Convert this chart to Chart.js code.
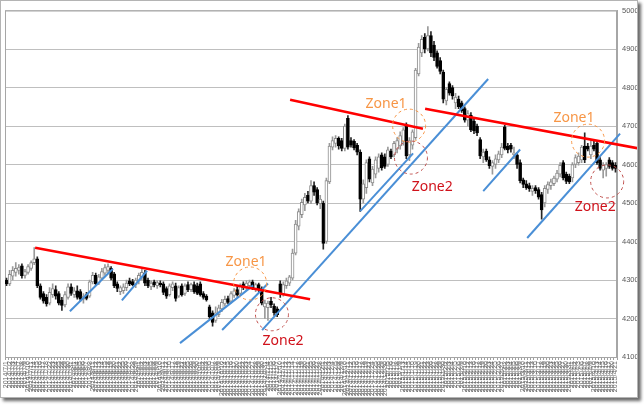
<!DOCTYPE html>
<html>
<head>
<meta charset="utf-8">
<script src="https://cdn.jsdelivr.net/npm/chart.js@4/dist/chart.umd.min.js"></script>
<style>
  html, body { margin: 0; padding: 0; background: #fff; }
  #frame {
    position: absolute; left: 0; top: 0;
    width: 636px; height: 396px;
    border: 1px solid #b4b4b4;
    box-shadow: 3px 3px 3px #6a6a6a;
    background: #fff;
  }
  canvas { display: block; }
</style>
</head>
<body>
<div id="frame"><canvas id="c" width="636" height="396"></canvas></div>
<script>
// trading days, 2014/7/1 - 2015/4/21
const dates = [
  '2014/7/1','2014/7/2','2014/7/3','2014/7/4','2014/7/7','2014/7/8','2014/7/9','2014/7/10','2014/7/11','2014/7/14','2014/7/15','2014/7/16','2014/7/17','2014/7/18','2014/7/22','2014/7/23','2014/7/24','2014/7/25','2014/7/28','2014/7/29','2014/7/30','2014/7/31',
  '2014/8/1','2014/8/4','2014/8/5','2014/8/6','2014/8/7','2014/8/8','2014/8/11','2014/8/12','2014/8/13','2014/8/14','2014/8/15','2014/8/18','2014/8/19','2014/8/20','2014/8/21','2014/8/22','2014/8/25','2014/8/26','2014/8/27','2014/8/28','2014/8/29',
  '2014/9/1','2014/9/2','2014/9/3','2014/9/4','2014/9/5','2014/9/8','2014/9/9','2014/9/10','2014/9/11','2014/9/12','2014/9/16','2014/9/17','2014/9/18','2014/9/19','2014/9/22','2014/9/24','2014/9/25','2014/9/26','2014/9/29','2014/9/30',
  '2014/10/1','2014/10/2','2014/10/3','2014/10/6','2014/10/7','2014/10/8','2014/10/9','2014/10/10','2014/10/14','2014/10/15','2014/10/16','2014/10/17','2014/10/20','2014/10/21','2014/10/22','2014/10/23','2014/10/24','2014/10/27','2014/10/28','2014/10/29','2014/10/30','2014/10/31',
  '2014/11/4','2014/11/5','2014/11/6','2014/11/7','2014/11/10','2014/11/11','2014/11/12','2014/11/13','2014/11/14','2014/11/17','2014/11/18','2014/11/19','2014/11/20','2014/11/21','2014/11/25','2014/11/26','2014/11/27','2014/11/28',
  '2014/12/1','2014/12/2','2014/12/3','2014/12/4','2014/12/5','2014/12/8','2014/12/9','2014/12/10','2014/12/11','2014/12/12','2014/12/15','2014/12/16','2014/12/17','2014/12/18','2014/12/19','2014/12/22','2014/12/24','2014/12/25','2014/12/26','2014/12/29','2014/12/30',
  '2015/1/5','2015/1/6','2015/1/7','2015/1/8','2015/1/9','2015/1/13','2015/1/14','2015/1/15','2015/1/16','2015/1/19','2015/1/20','2015/1/21','2015/1/22','2015/1/23','2015/1/26','2015/1/27','2015/1/28','2015/1/29','2015/1/30',
  '2015/2/2','2015/2/3','2015/2/4','2015/2/5','2015/2/6','2015/2/9','2015/2/10','2015/2/12','2015/2/13','2015/2/16','2015/2/17','2015/2/18','2015/2/19','2015/2/20','2015/2/23','2015/2/24','2015/2/25','2015/2/26','2015/2/27',
  '2015/3/2','2015/3/3','2015/3/4','2015/3/5','2015/3/6','2015/3/9','2015/3/10','2015/3/11','2015/3/12','2015/3/13','2015/3/16','2015/3/17','2015/3/18','2015/3/19','2015/3/20','2015/3/23','2015/3/24','2015/3/25','2015/3/26','2015/3/27','2015/3/30','2015/3/31',
  '2015/4/1','2015/4/2','2015/4/3','2015/4/6','2015/4/7','2015/4/8','2015/4/9','2015/4/10','2015/4/13','2015/4/14','2015/4/15','2015/4/16','2015/4/17','2015/4/20','2015/4/21'
];

const opens = [
  4300,4290,4310,4320,4325,4337,4312,4320,4330,4345,4355,4285,4265,4255,4240,4262,4275,4265,4248,4235,4255,4282,
  4262,4272,4270,4250,4262,4258,4295,4312,4292,4305,4318,4325,4330,4316,4290,4270,4272,4280,4298,4296,4288,
  4298,4308,4318,4300,4282,4295,4285,4292,4290,4278,4262,4280,4285,4258,4285,4265,4288,4275,4288,4285,
  4290,4265,4258,4230,4215,4195,4210,4225,4238,4252,4245,4260,4275,4265,4290,4280,4285,4295,4278,4288,4278,
  4230,4228,4245,4232,4225,4290,4262,4285,4292,4305,4370,4440,4470,4495,4520,4505,4545,4535,4498,
  4500,4400,4555,4645,4655,4668,4662,4642,4720,4662,4660,4650,4632,4510,4540,4615,4552,4575,4590,4625,4620,
  4600,4635,4625,4640,4648,4660,4702,4625,4650,4670,4835,4890,4930,4900,4935,4910,4890,4870,4840,
  4765,4810,4800,4760,4770,4760,4745,4715,4728,4712,4700,4665,4620,4635,4612,4595,4600,4612,4625,
  4698,4648,4650,4625,4625,4605,4560,4550,4545,4530,4540,4535,4522,4500,4535,4545,4550,4562,4575,4605,4575,4570,
  4565,4600,4605,4612,4648,4648,4625,4650,4655,4612,4585,4590,4612,4605,4598
];
const highs = [
  4305,4325,4335,4345,4340,4342,4328,4340,4350,4384,4360,4290,4270,4262,4280,4290,4285,4270,4255,4270,4290,4290,
  4280,4285,4275,4265,4268,4300,4320,4318,4315,4330,4340,4342,4335,4320,4295,4285,4290,4300,4305,4302,4305,
  4318,4328,4325,4305,4298,4300,4298,4298,4295,4282,4290,4295,4292,4285,4290,4290,4295,4292,4295,4292,
  4295,4270,4262,4235,4220,4230,4235,4250,4258,4258,4270,4278,4282,4290,4295,4298,4300,4300,4292,4292,4282,
  4248,4245,4255,4238,4230,4298,4295,4305,4312,4380,4455,4485,4510,4525,4530,4558,4555,4540,4520,
  4505,4565,4655,4672,4675,4672,4668,4705,4727,4670,4665,4655,4638,4560,4612,4620,4595,4620,4628,4630,4628,
  4645,4640,4660,4670,4685,4696,4708,4670,4690,4850,4915,4935,4940,4958,4945,4920,4895,4878,4845,
  4800,4815,4805,4785,4778,4765,4750,4740,4735,4718,4705,4670,4640,4640,4620,4610,4625,4635,4655,
  4702,4655,4655,4645,4630,4612,4565,4558,4552,4545,4545,4540,4528,4545,4555,4562,4570,4585,4605,4610,4580,4575,
  4605,4625,4630,4650,4682,4655,4662,4660,4662,4618,4605,4605,4618,4610,4605
];
const lows = [
  4285,4285,4300,4310,4315,4305,4305,4315,4325,4340,4280,4250,4240,4232,4235,4255,4250,4235,4221,4230,4250,4260,
  4255,4250,4245,4240,4248,4255,4290,4285,4288,4300,4312,4318,4300,4280,4270,4262,4265,4272,4285,4285,4280,
  4290,4300,4285,4280,4275,4282,4278,4282,4262,4252,4258,4272,4245,4255,4258,4260,4270,4270,4265,4262,
  4258,4250,4245,4200,4180,4190,4205,4218,4232,4238,4240,4255,4258,4260,4275,4272,4280,4275,4270,4270,4235,
  4200,4195,4228,4208,4205,4255,4258,4278,4285,4300,4365,4430,4462,4480,4500,4498,4520,4495,4485,
  4380,4395,4550,4638,4645,4640,4635,4635,4640,4645,4638,4625,4478,4500,4525,4555,4545,4565,4580,4585,4590,
  4595,4615,4620,4630,4640,4650,4615,4610,4640,4665,4830,4880,4890,4895,4880,4870,4850,4835,4760,
  4755,4780,4770,4745,4745,4735,4710,4700,4685,4680,4675,4615,4605,4608,4590,4575,4590,4605,4618,
  4638,4630,4632,4615,4590,4552,4540,4535,4530,4520,4525,4510,4458,4490,4525,4535,4545,4555,4568,4560,4550,4550,
  4555,4592,4598,4605,4605,4635,4615,4635,4600,4585,4565,4570,4590,4585,4580
];
const closes = [
  4290,4315,4325,4330,4332,4311,4322,4335,4345,4355,4285,4255,4245,4238,4268,4278,4258,4240,4234,4262,4282,4265,
  4272,4255,4250,4258,4252,4295,4312,4290,4308,4322,4332,4335,4305,4285,4278,4280,4282,4292,4290,4288,4300,
  4312,4320,4292,4285,4292,4288,4293,4288,4268,4258,4285,4290,4252,4280,4262,4285,4275,4288,4270,4265,
  4262,4255,4248,4205,4190,4215,4228,4242,4250,4242,4265,4272,4262,4285,4280,4292,4295,4280,4288,4275,4240,
  4240,4240,4235,4215,4210,4265,4288,4298,4308,4370,4445,4478,4502,4515,4505,4545,4528,4500,4510,
  4395,4558,4648,4662,4668,4648,4642,4700,4645,4650,4643,4632,4510,4550,4605,4562,4588,4612,4620,4592,4595,
  4638,4620,4655,4662,4675,4690,4622,4662,4685,4845,4905,4925,4900,4935,4890,4878,4855,4842,4770,
  4795,4785,4778,4775,4750,4740,4715,4732,4690,4688,4682,4622,4632,4612,4597,4605,4615,4628,4645,
  4642,4638,4640,4630,4600,4558,4548,4540,4537,4538,4532,4515,4482,4538,4548,4555,4565,4578,4598,4565,4556,4555,
  4600,4618,4622,4645,4612,4640,4648,4640,4605,4590,4598,4600,4595,4590,4590
];

const yTicks = [4100, 4200, 4300, 4400, 4500, 4600, 4700, 4800, 4900, 5000];

// trend lines: [x0 (day index), y0, x1, y1]
const redLines = [
  [9.3, 4384, 98.7, 4250],
  [92.2, 4768, 135.4, 4693],
  [136.1, 4745, 206, 4641]
];
const blueLines = [
  [20.6, 4219, 34.6, 4329],
  [37.5, 4247, 45.7, 4324],
  [56.4, 4136, 80.2, 4286],
  [70.1, 4170, 85.0, 4291],
  [83.1, 4170, 156.6, 4822],
  [115.0, 4479, 132.2, 4629],
  [155.0, 4531, 167.0, 4639],
  [169.3, 4409, 199.5, 4680]
];
// dashed circles and labels: [day index, value]
const zone1Circles = [[79.2, 4291], [130.9, 4701], [189.1, 4662]];
const zone2Circles = [[86.3, 4211], [131.5, 4618], [195.3, 4556]];
const zone1Labels = [[77.9, 4348], [123.4, 4758], [184.5, 4721]];
const zone2Labels = [[89.9, 4141], [138.4, 4541], [191.4, 4489]];

const up = closes.map((c, i) => c >= opens[i]);

const lineSet = (l, color) => ({
  type: 'line',
  xAxisID: 'xl',
  data: [{ x: l[0], y: l[1] }, { x: l[2], y: l[3] }],
  borderColor: color,
  borderWidth: color === '#ff0000' ? 2.5 : 2,
  pointRadius: 0,
  clip: false,
  order: 0
});

const zones = {
  id: 'zones',
  beforeDatasetsDraw(chart) {
    const { ctx, chartArea: a } = chart;
    ctx.save();
    ctx.strokeStyle = '#a6a6a6';
    ctx.lineWidth = 1;
    ctx.strokeRect(a.left + 0.5, a.top + 0.5, a.right - a.left - 1, a.bottom - a.top);
    ctx.restore();
  },
  afterDatasetsDraw(chart) {
    const { ctx } = chart;
    const xs = chart.scales.xl, ys = chart.scales.y;
    ctx.save();
    ctx.lineWidth = 1;
    ctx.setLineDash([3, 3]);
    const ring = (p, color) => {
      ctx.strokeStyle = color;
      ctx.beginPath();
      ctx.arc(xs.getPixelForValue(p[0]), ys.getPixelForValue(p[1]), 16.5, 0, Math.PI * 2);
      ctx.stroke();
    };
    zone1Circles.forEach(p => ring(p, '#f79646'));
    zone2Circles.forEach(p => ring(p, '#c0504d'));
    ctx.setLineDash([]);
    ctx.font = '14px "Noto Sans", sans-serif';
    ctx.textAlign = 'center';
    ctx.textBaseline = 'middle';
    ctx.fillStyle = '#f79646';
    zone1Labels.forEach(p => ctx.fillText('Zone1', xs.getPixelForValue(p[0]), ys.getPixelForValue(p[1])));
    ctx.fillStyle = '#d0121b';
    zone2Labels.forEach(p => ctx.fillText('Zone2', xs.getPixelForValue(p[0]), ys.getPixelForValue(p[1])));
    ctx.restore();
  }
};

new Chart(document.getElementById('c'), {
  type: 'bar',
  data: {
    labels: dates,
    datasets: [
      {
        label: 'body',
        data: opens.map((o, i) => [o, closes[i]]),
        backgroundColor: up.map(u => (u ? '#ffffff' : '#000000')),
        borderColor: up.map(u => (u ? '#8c8c8c' : '#000000')),
        borderWidth: 1,
        borderSkipped: false,
        barThickness: 3,
        grouped: false,
        order: 1
      },
      {
        label: 'wick',
        data: lows.map((l, i) => [l, highs[i]]),
        backgroundColor: up.map(u => (u ? '#9a9a9a' : '#262626')),
        borderWidth: 0,
        barThickness: 1,
        grouped: false,
        order: 2
      },
      ...redLines.map(l => lineSet(l, '#ff0000')),
      ...blueLines.map(l => lineSet(l, '#4a8fd6'))
    ]
  },
  options: {
    responsive: false,
    animation: false,
    layout: { padding: { left: 4, top: 7, right: 0, bottom: 0 } },
    plugins: { legend: { display: false }, tooltip: { enabled: false } },
    scales: {
      x: {
        type: 'category',
        offset: true,
        grid: { display: true, drawOnChartArea: false, tickLength: 3, color: '#a0a0a0' },
        border: { color: '#8c8c8c' },
        ticks: {
          autoSkip: false,
          minRotation: 90,
          maxRotation: 90,
          padding: 1,
          color: '#6a6a6a',
          font: { family: 'Liberation Sans', size: 7 }
        },
        afterFit: s => { s.height = 40; }
      },
      xl: {
        type: 'linear',
        display: false,
        offset: false,
        bounds: 'ticks',
        min: -0.5,
        max: dates.length - 0.5,
        grid: { offset: false }
      },
      y: {
        position: 'right',
        min: yTicks[0],
        max: yTicks[yTicks.length - 1],
        afterBuildTicks: s => { s.ticks = yTicks.map(v => ({ value: v })); },
        grid: { color: '#bfbfbf', drawTicks: false },
        border: { color: '#a6a6a6' },
        ticks: {
          padding: 5,
          color: '#595959',
          font: { family: 'Liberation Sans', size: 7.5 },
          callback: v => String(v)
        },
        afterFit: s => { s.width = 20; }
      }
    }
  },
  plugins: [zones]
});
</script>
</body>
</html>
